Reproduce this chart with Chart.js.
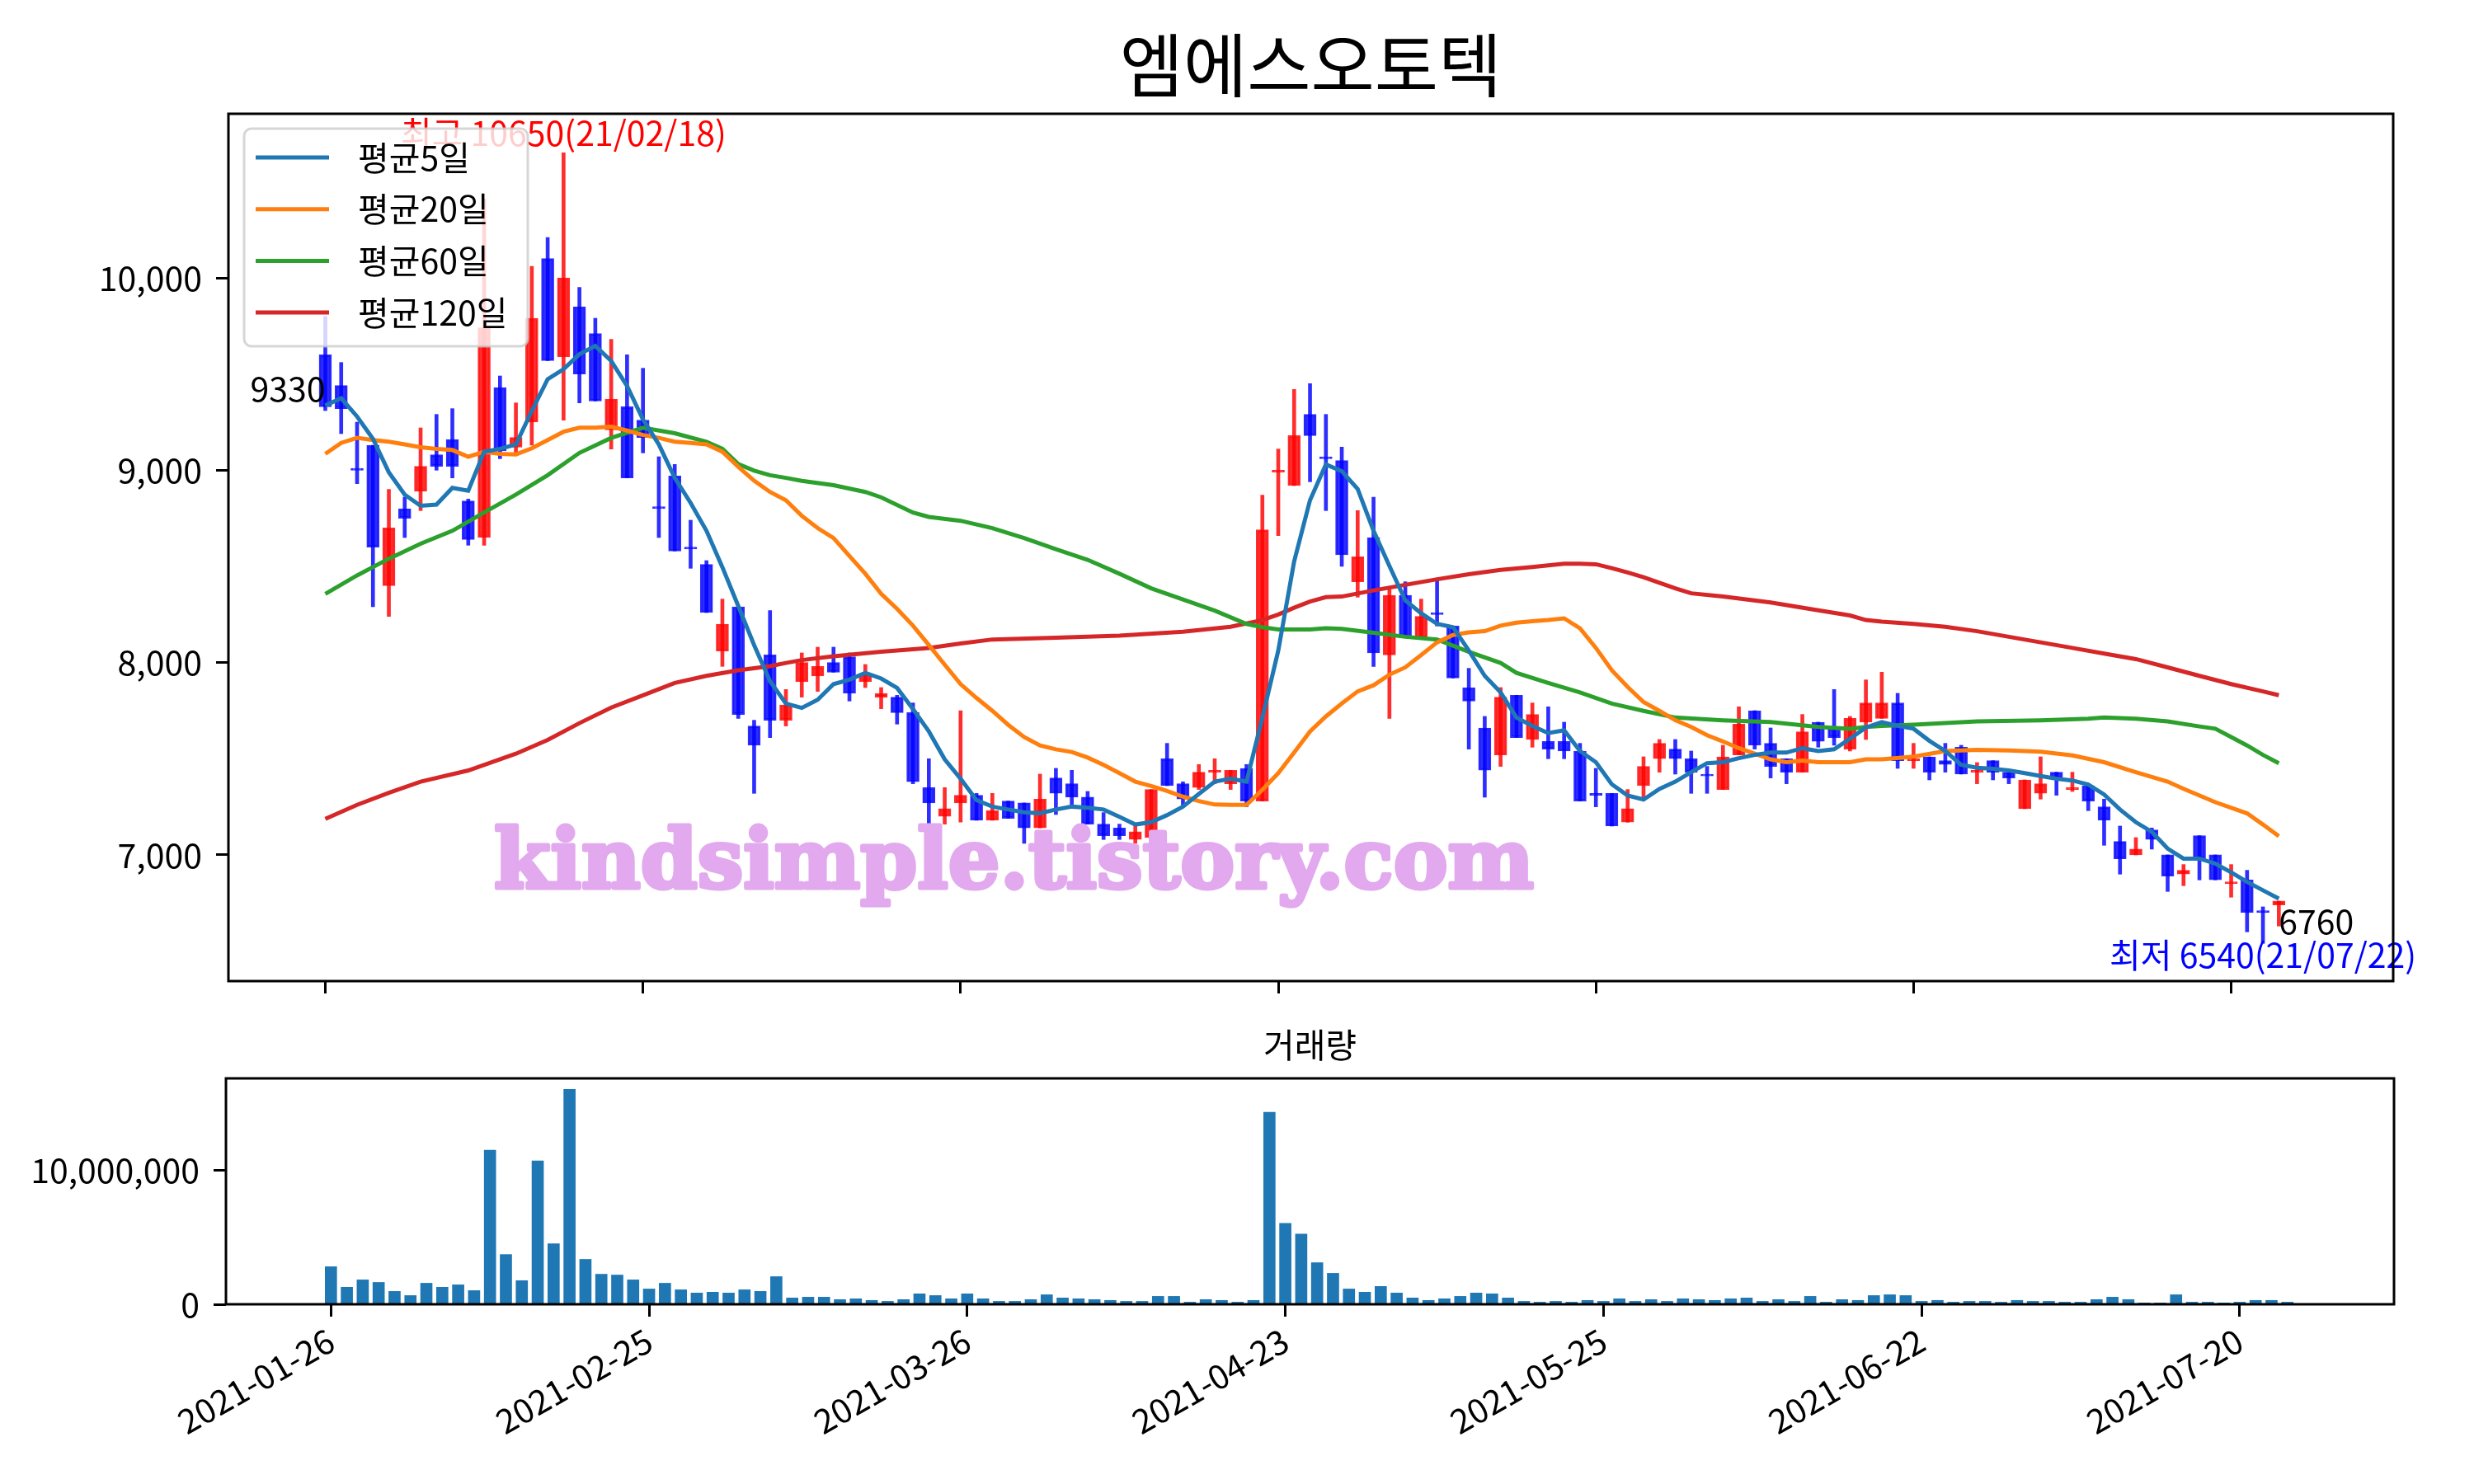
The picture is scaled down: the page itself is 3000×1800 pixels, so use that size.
<!DOCTYPE html>
<html>
<head>
<meta charset="utf-8">
<script src="https://cdn.jsdelivr.net/npm/chart.js@4/dist/chart.umd.min.js"></script>
<style>
  body { margin: 0; background: #fff; }
  #wrap { position: relative; width: 3000px; height: 1800px; background: #fff; }
  canvas { position: absolute; left: 0; }
</style>
</head>
<body>
<div id="wrap">
  <canvas id="price" width="3000" height="1240" style="top:0px"></canvas>
  <canvas id="volume" width="3000" height="560" style="top:1240px"></canvas>
</div>
<script>
var chartTitle = '엠에스오토텍';
var volumeTitle = '거래량';
var watermark = 'kindsimple.tistory.com';

// daily prices, trading day index 0 = 2021-01-26
var openP = [
  9600, 9440, 9010, 9130, 8400, 8800, 8890, 9080, 9160, 8840,
  8650, 9430, 9120, 9250, 10100, 9590, 9850, 9710, 9210, 9330,
  9260, 8810, 8970, 8600, 8510, 8060, 8290, 7670, 8040, 7700,
  7900, 7930, 8000, 8030, 7900, 7820, 7820, 7740, 7350, 7200,
  7270, 7310, 7180, 7280, 7270, 7140, 7400, 7370, 7300, 7160,
  7140, 7080, 7090, 7500, 7370, 7350, 7430, 7370, 7450, 7280,
  8990, 8920, 9290, 9070, 9050, 8420, 8650, 8040, 8350, 8130,
  8260, 8190, 7870, 7660, 7520, 7830, 7600, 7590, 7590, 7540,
  7320, 7320, 7170, 7360, 7500, 7550, 7500, 7420, 7340, 7520,
  7750, 7580, 7500, 7430, 7690, 7660, 7550, 7690, 7710, 7790,
  7490, 7510, 7490, 7560, 7430, 7490, 7430, 7240, 7320, 7430,
  7340, 7360, 7250, 7070, 7000, 7130, 7000, 6900, 7100, 7000,
  6850, 6870, 6710, 6740
];
var highP = [
  9800, 9560, 9250, 9130, 8900, 8860, 9220, 9290, 9320, 8850,
  10410, 9490, 9350, 10060, 10210, 10650, 9950, 9790, 9680, 9600,
  9530, 9070, 9030, 8740, 8530, 8330, 8290, 7700, 8270, 7860,
  8050, 8080, 8080, 8050, 7990, 7870, 7830, 7790, 7500, 7350,
  7750, 7320, 7320, 7280, 7270, 7420, 7450, 7440, 7330, 7220,
  7160, 7150, 7340, 7580, 7380, 7470, 7500, 7440, 7470, 8870,
  9110, 9420, 9450, 9290, 9120, 8790, 8860, 8380, 8420, 8330,
  8430, 8190, 7970, 7720, 7870, 7830, 7790, 7770, 7690, 7580,
  7450, 7320, 7340, 7510, 7600, 7600, 7540, 7460, 7570, 7770,
  7750, 7660, 7500, 7730, 7690, 7860, 7720, 7910, 7950, 7840,
  7580, 7510, 7580, 7570, 7480, 7490, 7430, 7390, 7510, 7430,
  7430, 7370, 7290, 7150, 7090, 7140, 7000, 6950, 7100, 7000,
  6950, 6920, 6730, 6760
];
var lowP = [
  9310, 9190, 8930, 8290, 8240, 8650, 8790, 9000, 8960, 8610,
  8610, 9060, 9090, 9130, 9570, 9260, 9350, 9360, 9110, 8960,
  9090, 8650, 8580, 8490, 8260, 7980, 7710, 7320, 7610, 7670,
  7820, 7850, 7950, 7800, 7870, 7760, 7680, 7370, 7160, 7160,
  7170, 7180, 7180, 7190, 7060, 7140, 7210, 7250, 7160, 7080,
  7080, 7060, 7090, 7360, 7250, 7340, 7370, 7340, 7250, 7280,
  8660, 8920, 8940, 8790, 8500, 8340, 7980, 7710, 8130, 8130,
  8190, 7920, 7550, 7300, 7460, 7610, 7560, 7500, 7500, 7280,
  7250, 7150, 7170, 7290, 7430, 7420, 7320, 7320, 7340, 7520,
  7550, 7400, 7370, 7430, 7560, 7570, 7540, 7600, 7710, 7450,
  7450, 7390, 7430, 7420, 7370, 7390, 7370, 7240, 7290, 7310,
  7330, 7230, 7050, 6900, 7000, 7030, 6810, 6840, 6870, 6870,
  6780, 6600, 6540, 6630
];
var closeP = [
  9330, 9320, 9000, 8600, 8700, 8750, 9020, 9020, 9020, 8640,
  9740, 9100, 9170, 9790, 9570, 10000, 9500, 9360, 9370, 8960,
  9170, 8800, 8580, 8590, 8260, 8200, 7730, 7570, 7700, 7780,
  8000, 7980, 7950, 7840, 7940, 7840, 7740, 7380, 7270, 7240,
  7310, 7180, 7230, 7190, 7140, 7290, 7320, 7300, 7160, 7100,
  7100, 7120, 7340, 7360, 7290, 7430, 7440, 7440, 7280, 8690,
  9000, 9180, 9180, 9060, 8560, 8550, 8050, 8350, 8130, 8240,
  8250, 7920, 7800, 7440, 7820, 7610, 7730, 7550, 7540, 7280,
  7310, 7150, 7240, 7460, 7580, 7500, 7430, 7410, 7510, 7680,
  7570, 7460, 7430, 7640, 7590, 7610, 7710, 7790, 7790, 7490,
  7500, 7430, 7470, 7420, 7440, 7430, 7400, 7390, 7370, 7400,
  7350, 7280, 7180, 6980, 7030, 7080, 6890, 6920, 6980, 6870,
  6860, 6700, 6700, 6760
];
var volume = [
  2800000, 1270000, 1820000, 1630000, 960000, 650000, 1570000, 1270000, 1450000, 1020000,
  11490000, 3710000, 1760000, 10690000, 4510000, 16020000, 3350000, 2240000, 2180000, 1820000,
  1140000, 1570000, 1080000, 840000, 900000, 840000, 1080000, 960000, 2060000, 470000,
  530000, 530000, 350000, 410000, 290000, 220000, 350000, 780000, 650000, 410000,
  780000, 410000, 220000, 220000, 350000, 710000, 470000, 410000, 350000, 290000,
  220000, 220000, 590000, 590000, 160000, 350000, 290000, 160000, 290000, 14310000,
  6040000, 5240000, 3100000, 2310000, 1140000, 900000, 1330000, 840000, 470000, 290000,
  410000, 590000, 840000, 780000, 470000, 220000, 160000, 220000, 160000, 290000,
  220000, 410000, 220000, 350000, 220000, 410000, 350000, 290000, 410000, 470000,
  220000, 350000, 220000, 590000, 160000, 350000, 290000, 650000, 710000, 650000,
  220000, 290000, 160000, 220000, 220000, 160000, 290000, 220000, 220000, 160000,
  160000, 350000, 530000, 350000, 100000, 100000, 710000, 160000, 160000, 100000,
  160000, 290000, 290000, 160000
];

// moving averages, [day index, value]
var ma5 = [
  9337, 9374, 9279, 9163, 8989, 8873, 8815, 8821, 8908, 8893,
  9096, 9111, 9134, 9308, 9473, 9525, 9603, 9646, 9568, 9438,
  9264, 9134, 8960, 8830, 8685, 8496, 8294, 8091, 7903, 7787,
  7764, 7807, 7888, 7911, 7946, 7917, 7868, 7758, 7642, 7497,
  7396, 7285, 7251, 7236, 7222, 7216, 7236, 7251, 7245, 7236,
  7198, 7158, 7170, 7207, 7251, 7317, 7381, 7396, 7381, 7714,
  8062, 8525, 8844, 9030, 8995, 8902, 8685, 8502, 8323, 8256,
  8201, 8184, 8062, 7931, 7845, 7714, 7671, 7633, 7648, 7540,
  7482, 7367, 7309, 7288, 7343, 7381, 7430, 7477, 7482, 7503,
  7520, 7532, 7532, 7555, 7540, 7549, 7604, 7662, 7691, 7671,
  7656, 7593, 7540, 7468, 7453, 7448, 7439, 7425, 7410, 7396,
  7387, 7366, 7314, 7236, 7170, 7120, 7033, 6981, 6981, 6955,
  6909, 6860, 6816, 6773
];
var ma20 = [
  [0, 9085], [1, 9142], [2, 9168], [3, 9157], [4, 9148], [5, 9134], [6, 9119], [7, 9111], [8, 9105], [9, 9070],
  [10, 9096], [11, 9085], [12, 9082], [13, 9114], [14, 9157], [15, 9200], [16, 9221], [17, 9221], [18, 9226], [19, 9206],
  [20, 9183], [21, 9168], [22, 9148], [23, 9142], [24, 9134], [25, 9096], [26, 9018], [27, 8945], [28, 8887], [29, 8844],
  [30, 8763], [31, 8699], [32, 8647], [33, 8554], [34, 8462], [35, 8357], [36, 8279], [37, 8192], [38, 8091], [39, 7989],
  [40, 7888], [41, 7816], [42, 7749], [43, 7676], [44, 7613], [45, 7569], [46, 7549], [47, 7535], [48, 7506], [49, 7468],
  [50, 7425], [51, 7381], [52, 7358], [53, 7332], [54, 7303], [55, 7280], [56, 7262], [57, 7260], [58, 7260], [59, 7338],
  [60, 7425], [61, 7532], [62, 7642], [63, 7720], [64, 7787], [65, 7850], [66, 7882], [67, 7937], [68, 7975], [69, 8039],
  [70, 8105], [71, 8143], [72, 8157], [73, 8163], [74, 8192], [75, 8207], [76, 8215], [77, 8221], [78, 8230], [79, 8178],
  [80, 8076], [81, 7960], [82, 7873], [83, 7795], [84, 7749], [85, 7700], [86, 7665], [87, 7622], [88, 7590], [89, 7555],
  [90, 7526], [91, 7497], [92, 7482], [93, 7491], [94, 7482], [95, 7482], [96, 7482], [97, 7497], [98, 7497], [100, 7511],
  [102, 7540], [104, 7546], [106, 7543], [108, 7537], [110, 7517], [112, 7482], [114, 7430], [116, 7381], [117, 7344], [119, 7274],
  [121, 7216], [122, 7158], [123, 7097]
];
var ma60 = [
  [0, 8357], [2, 8453], [4, 8540], [6, 8618], [8, 8685], [10, 8780], [12, 8873], [14, 8974], [16, 9090], [18, 9168],
  [20, 9221], [22, 9192], [24, 9148], [25, 9111], [26, 9032], [27, 8998], [28, 8974], [29, 8960], [30, 8945], [32, 8922],
  [34, 8887], [35, 8859], [37, 8780], [38, 8757], [40, 8737], [42, 8699], [44, 8647], [46, 8589], [48, 8534], [50, 8462],
  [52, 8386], [54, 8328], [56, 8270], [58, 8201], [59, 8184], [60, 8172], [62, 8172], [63, 8178], [64, 8175], [66, 8155],
  [68, 8134], [70, 8120], [72, 8056], [74, 7998], [75, 7946], [77, 7894], [79, 7845], [81, 7787], [83, 7749], [85, 7714],
  [88, 7700], [91, 7691], [94, 7665], [96, 7656], [97, 7665], [98, 7671], [100, 7677], [104, 7694], [108, 7700], [111, 7708],
  [112, 7714], [114, 7708], [116, 7694], [118, 7668], [119, 7656], [120, 7613], [121, 7569], [122, 7520], [123, 7477]
];
var ma120 = [
  [0, 7187], [2, 7260], [4, 7323], [6, 7381], [9, 7439], [12, 7526], [14, 7598], [16, 7685], [18, 7766], [20, 7830],
  [22, 7894], [24, 7931], [26, 7960], [28, 7981], [29, 7998], [30, 8013], [32, 8033], [35, 8056], [38, 8076], [40, 8099],
  [42, 8120], [46, 8129], [50, 8140], [54, 8160], [57, 8186], [59, 8221], [60, 8250], [61, 8285], [62, 8317], [63, 8340],
  [64, 8343], [66, 8375], [68, 8404], [70, 8433], [72, 8459], [74, 8482], [76, 8497], [78, 8514], [79, 8514], [80, 8511],
  [81, 8491], [82, 8468], [83, 8444], [84, 8415], [85, 8386], [86, 8360], [88, 8343], [91, 8312], [94, 8272], [96, 8245],
  [97, 8221], [98, 8213], [100, 8201], [102, 8186], [104, 8163], [106, 8134], [108, 8105], [110, 8076], [112, 8047], [114, 8018],
  [116, 7975], [118, 7931], [120, 7888], [122, 7850], [123, 7830]
];
var maNames = ['평균5일', '평균20일', '평균60일', '평균120일'];

var tickPos = [0, 20, 40, 60, 80, 100, 120];
var tickLabels = ['2021-01-26', '2021-02-25', '2021-03-26', '2021-04-23', '2021-05-25', '2021-06-22', '2021-07-20'];
var priceTicks = [7000, 8000, 9000, 10000];
var volumeTicks = [0, 10000000];

var noteText = ['최고 10650(21/02/18)', '최저 6540(21/07/22)', '6760', '9330'];
var noteX = [15, 122, 123, 0];
var noteY = [10650, 6540, 6760, 9330];

// ---- styling ----
var FONT = '"Noto Sans CJK KR", "Noto Sans", sans-serif';
Chart.defaults.font.family = FONT;
Chart.defaults.font.size = 41;
Chart.defaults.color = '#000';

var maColors = ['#1f77b4', '#ff7f0e', '#2ca02c', '#d62728'];
var noteColor = ['#ff0000', '#0000ff', '#000000', '#000000'];
var noteAlign = ['center', 'center', 'left', 'right'];
var noteShift = [-8, 30, 40, -6];

var days = closeP.map(function (c, i) { return i; });
var candleColors = days.map(function (i) {
  return closeP[i] >= openP[i] ? 'rgba(255,0,0,0.82)' : 'rgba(0,0,255,0.82)';
});

function toPoints(list) {
  return list.map(function (p) { return { x: p[0], y: p[1] }; });
}

function xAxis(min, max, h, labels) {
  return {
    type: 'linear', min: min, max: max, offset: false,
    border: { display: false },
    grid: { offset: false, drawOnChartArea: false, drawTicks: true, tickLength: 15, tickWidth: 3, tickColor: '#000' },
    afterBuildTicks: function (s) { s.ticks = tickPos.map(function (v) { return { value: v }; }); },
    afterFit: function (s) { s.height = h; },
    ticks: {
      autoSkip: false, maxRotation: 30, minRotation: 30, padding: 4,
      callback: function (v, i) { return labels ? tickLabels[i] : ''; }
    }
  };
}

function yAxis(min, max, w, vals) {
  return {
    type: 'linear', min: min, max: max,
    border: { display: false },
    grid: { offset: false, drawOnChartArea: false, drawTicks: true, tickLength: 15, tickWidth: 3, tickColor: '#000' },
    afterBuildTicks: function (s) { s.ticks = vals.map(function (v) { return { value: v }; }); },
    afterFit: function (s) { s.width = w; },
    ticks: { padding: 17, callback: function (v) { return Number(v).toLocaleString('en-US'); } }
  };
}

function roundBox(ctx, x, y, w, h, r) {
  ctx.beginPath();
  ctx.moveTo(x + r, y);
  ctx.arcTo(x + w, y, x + w, y + h, r);
  ctx.arcTo(x + w, y + h, x, y + h, r);
  ctx.arcTo(x, y + h, x, y, r);
  ctx.arcTo(x, y, x + w, y, r);
  ctx.closePath();
}

function frame(ctx, a) {
  ctx.strokeStyle = '#000';
  ctx.lineWidth = 3;
  ctx.strokeRect(a.left, a.top, a.right - a.left, a.bottom - a.top);
}

var priceDeco = {
  id: 'priceDeco',
  afterDraw: function (chart) {
    var ctx = chart.ctx, a = chart.chartArea;
    var xs = chart.scales.x, ys = chart.scales.y;
    ctx.save();

    // price notes
    ctx.font = '41px ' + FONT;
    ctx.textBaseline = 'alphabetic';
    for (var k = 0; k < noteText.length; k++) {
      ctx.fillStyle = noteColor[k];
      ctx.textAlign = noteAlign[k];
      ctx.fillText(noteText[k], xs.getPixelForValue(noteX[k]), ys.getPixelForValue(noteY[k]) + noteShift[k]);
    }

    // watermark
    ctx.save();
    ctx.font = 'bold 100px "DejaVu Serif"';
    var w = ctx.measureText(watermark).width;
    ctx.translate(599, 1077);
    ctx.scale(1261 / w, 1);
    ctx.fillStyle = '#e2a9ee';
    ctx.strokeStyle = '#e2a9ee';
    ctx.lineWidth = 5;
    ctx.lineJoin = 'round';
    ctx.textAlign = 'left';
    ctx.strokeText(watermark, 0, 0);
    ctx.fillText(watermark, 0, 0);
    ctx.restore();

    // legend
    roundBox(ctx, 296, 156, 344, 264, 9);
    ctx.fillStyle = 'rgba(255,255,255,0.8)';
    ctx.fill();
    ctx.lineWidth = 3;
    ctx.strokeStyle = 'rgba(204,204,204,0.8)';
    ctx.stroke();
    ctx.font = '41px ' + FONT;
    ctx.textAlign = 'left';
    ctx.textBaseline = 'middle';
    for (var m = 0; m < maNames.length; m++) {
      var ly = 191 + m * 62.7;
      ctx.strokeStyle = maColors[m];
      ctx.lineWidth = 5;
      ctx.beginPath();
      ctx.moveTo(310, ly);
      ctx.lineTo(399, ly);
      ctx.stroke();
      ctx.fillStyle = '#000';
      ctx.fillText(maNames[m], 434, ly);
    }

    frame(ctx, a);

    // title
    ctx.font = '84px ' + FONT;
    ctx.fillStyle = '#000';
    ctx.textAlign = 'center';
    ctx.textBaseline = 'middle';
    ctx.fillText(chartTitle, (a.left + a.right) / 2, 79);
    ctx.restore();
  }
};

var volumeDeco = {
  id: 'volumeDeco',
  afterDraw: function (chart) {
    var ctx = chart.ctx, a = chart.chartArea;
    ctx.save();
    frame(ctx, a);
    ctx.font = '41px ' + FONT;
    ctx.fillStyle = '#000';
    ctx.textAlign = 'center';
    ctx.textBaseline = 'middle';
    ctx.fillText(volumeTitle, (a.left + a.right) / 2, 27);
    ctx.restore();
  }
};

var common = {
  responsive: false,
  animation: false,
  devicePixelRatio: 1,
  events: [],
  plugins: { legend: { display: false }, tooltip: { enabled: false }, title: { display: false } }
};

var lineSets = [
  ma5.map(function (v, i) { return { x: i, y: v }; }),
  toPoints(ma20),
  toPoints(ma60),
  toPoints(ma120)
].map(function (pts, k) {
  return {
    type: 'line', label: maNames[k], data: pts,
    borderColor: maColors[k], borderWidth: 5,
    pointRadius: 0, tension: 0, fill: false, order: 0
  };
});

new Chart(document.getElementById('price'), {
  type: 'bar',
  data: {
    datasets: lineSets.concat([
      {
        type: 'bar', label: 'body',
        data: days.map(function (i) { return { x: i, y: [openP[i], closeP[i]] }; }),
        backgroundColor: candleColors, borderColor: candleColors,
        borderWidth: 2, borderSkipped: false, barThickness: 15, grouped: false, order: 2
      },
      {
        type: 'bar', label: 'wick',
        data: days.map(function (i) { return { x: i, y: [lowP[i], highP[i]] }; }),
        backgroundColor: candleColors, borderWidth: 0,
        barThickness: 4, grouped: false, order: 1
      }
    ])
  },
  options: Object.assign({}, common, {
    layout: { autoPadding: false, padding: { left: 0, top: 138, right: 98, bottom: 0 } },
    scales: {
      x: xAxis(-6.1, 130.2, 50, false),
      y: yAxis(6344, 10853, 277, priceTicks)
    }
  }),
  plugins: [priceDeco]
});

new Chart(document.getElementById('volume'), {
  type: 'bar',
  data: {
    datasets: [{
      label: volumeTitle,
      data: days.map(function (i) { return { x: i, y: volume[i] }; }),
      backgroundColor: '#1f77b4', barThickness: 14, grouped: false
    }]
  },
  options: Object.assign({}, common, {
    layout: { autoPadding: false, padding: { left: 0, top: 68, right: 97, bottom: 0 } },
    scales: {
      x: xAxis(-6.6, 129.7, 218, true),
      y: yAxis(0, 16840000, 274, volumeTicks)
    }
  }),
  plugins: [volumeDeco]
});
</script>
</body>
</html>
